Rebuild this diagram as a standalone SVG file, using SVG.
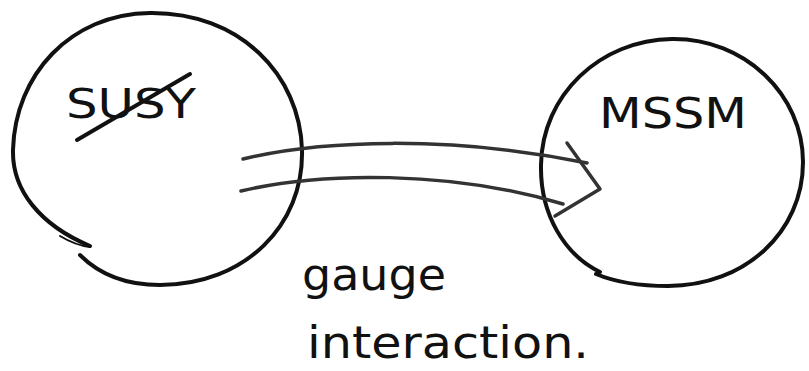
<svg xmlns="http://www.w3.org/2000/svg" width="809" height="371" viewBox="0 0 809 371">
<style>
.ink{fill:none;stroke:#111;stroke-linecap:round;stroke-linejoin:round}
.c{stroke-width:4}
.a{stroke-width:3.5;stroke:#333}
.t{font-family:"DejaVu Sans","Liberation Sans",sans-serif;fill:#111}
</style>
<rect width="809" height="371" fill="#fff"/>
<g id="susy">
<path class="ink c" d="M90,246 C40,225 12,190 13,150 C15,75 70,14 150,13 C240,12 300,75 302,150 C304,225 245,285 160,285 C120,285 95,270 80,255"/>
<path class="ink c" style="stroke-width:2" d="M60,236 C70,242 80,246 90,247"/>
<text class="t" x="66" y="118" font-size="40" textLength="130" lengthAdjust="spacingAndGlyphs">SUSY</text>
<path class="ink" style="stroke-width:4" d="M77,140 L190,74"/>
</g>
<g id="mssm">
<path class="ink c" d="M600,272 C565,255 540,215 541,165 C542,95 600,40 672,39 C745,38 803,95 803,162 C803,232 745,286 668,286 C640,286 615,282 596,274"/>
<text class="t" x="599" y="128" font-size="42" textLength="148" lengthAdjust="spacingAndGlyphs">MSSM</text>
</g>
<g id="connectors">
<path class="ink a" d="M243,159 C320,140 450,135 587,163"/>
<path class="ink a" d="M241,191 C320,172 450,170 563,204"/>
<path class="ink a" d="M567,143 L600,189 L555,216"/>
</g>
<g id="label">
<text class="t" x="302" y="290" font-size="44" textLength="144" lengthAdjust="spacingAndGlyphs">gauge</text>
<text class="t" x="307" y="358" font-size="44" textLength="282" lengthAdjust="spacingAndGlyphs">interaction.</text>
</g>
</svg>
